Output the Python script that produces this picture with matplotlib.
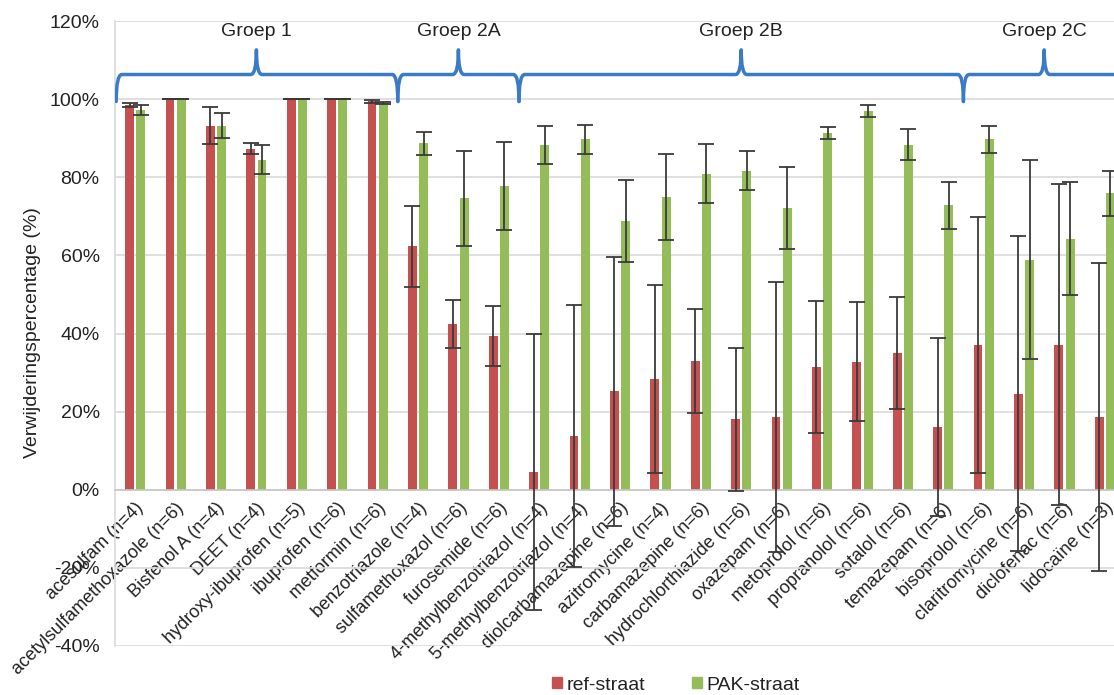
import matplotlib
matplotlib.use("Agg")
import matplotlib.pyplot as plt
from matplotlib.path import Path
from matplotlib.patches import PathPatch, Patch
import numpy as np

plt.rcParams['font.family'] = ['Liberation Sans', 'DejaVu Sans']

compounds = [
    "acesulfam (n=4)", "acetylsulfamethoxazole (n=6)", "Bisfenol A (n=4)",
    "DEET (n=4)", "hydroxy-ibuprofen (n=5)", "ibuprofen (n=6)", "metformin (n=6)",
    "benzotriazole (n=4)", "sulfamethoxazol (n=6)", "furosemide (n=6)",
    "4-methylbenzotriazol (n=4)", "5-methylbenzotriazol (n=4)",
    "diolcarbamazepine (n=6)", "azitromycine (n=4)", "carbamazepine (n=6)",
    "hydrochlorthiazide (n=6)", "oxazepam (n=6)", "metoprolol (n=6)",
    "propranolol (n=6)", "sotalol (n=6)", "temazepam (n=6)", "bisoprolol (n=6)",
    "claritromycine (n=6)", "diclofenac (n=6)", "lidocaïne (n=3)",
]

ref_straat = [98.5, 100, 93.2, 87.3, 100, 100, 99.4, 62.3, 42.4, 39.4,
              4.5, 13.7, 25.2, 28.3, 33.0, 18.0, 18.6, 31.4, 32.8, 35.1,
              16.1, 37.1, 24.6, 37.1, 18.7]
ref_straat_err = [0.5, 0, 4.8, 1.4, 0, 0, 0.3, 10.4, 6.1, 7.6,
                  35.4, 33.5, 34.5, 24.0, 13.3, 18.2, 34.5, 16.8, 15.2, 14.3,
                  22.8, 32.8, 40.3, 41.1, 39.4]
pak_straat = [97.2, 100, 93.2, 84.5, 100, 100, 99.0, 88.7, 74.6, 77.7,
              88.3, 89.7, 68.9, 74.9, 80.9, 81.7, 72.2, 91.3, 96.9, 88.3,
              72.8, 89.7, 58.9, 64.3, 75.9]
pak_straat_err = [1.2, 0, 3.2, 3.7, 0, 0, 0.3, 2.9, 12.2, 11.2,
                  4.8, 3.8, 10.5, 11.0, 7.5, 5.0, 10.5, 1.5, 1.5, 4.0,
                  6.0, 3.5, 25.4, 14.5, 5.8]

# groups: (label, first index, last index)
groups = [("Groep 1", 0, 6), ("Groep 2A", 7, 9), ("Groep 2B", 10, 20),
          ("Groep 2C", 21, 24)]

RED = "#C4504F"
GREEN = "#94BD5A"
BLUE = "#3A7BC8"
GRID = "#D9D9D9"
TXT = "#222222"
FS = 14

fig = plt.figure(figsize=(11.14, 6.95), dpi=100)
ax = fig.add_axes([115 / 1114, 1 - 646 / 695, 1010 / 1114, 625 / 695])

x = np.arange(len(compounds))
w = 0.22
off = 0.14
ax.bar(x - off, ref_straat, width=w, color=RED, zorder=2)
ax.bar(x + off, pak_straat, width=w, color=GREEN, zorder=2)
ekw = dict(fmt="none", ecolor="#3a3a3a", elinewidth=1.3, capsize=5.5,
           capthick=1.3, zorder=4)
ax.errorbar(x - off, ref_straat, yerr=ref_straat_err, **ekw)
ax.errorbar(x + off, pak_straat, yerr=pak_straat_err, **ekw)

ax.set_xlim(-0.5, len(compounds) - 0.5)
ax.set_ylim(-40, 120)
yt = np.arange(-40, 121, 20)
ax.set_yticks(yt)
ax.set_yticklabels([f"{v}%" for v in yt], fontsize=FS, color=TXT)
ax.yaxis.grid(True, color=GRID, linewidth=1.2)
ax.set_axisbelow(True)
ax.tick_params(axis="y", length=0, pad=11)

for s in ["top", "right"]:
    ax.spines[s].set_visible(False)
ax.spines["left"].set_color(GRID)
ax.spines["left"].set_linewidth(1.2)
ax.spines["bottom"].set_position(("data", 0))
ax.spines["bottom"].set_color("#C8C8C8")
ax.spines["bottom"].set_linewidth(1.2)

ax.set_xticks(x)
ax.set_xticklabels(compounds, rotation=45, ha="right", rotation_mode="anchor",
                   fontsize=FS - 1, color=TXT)
ax.tick_params(axis="x", length=0, pad=7)

# curly braces above the groups
y_end, y_h, y_tip = 99.4, 106.3, 112.6
bw = 0.14
for i, (name, a, b) in enumerate(groups):
    x0 = a - 0.5 if i > 0 else -0.47
    x1 = b + 0.5
    xt = (a + b) / 2
    verts = [(x0, y_end), (x0, y_h), (x0 + bw, y_h),
             (xt - bw, y_h), (xt, y_h), (xt, y_tip),
             (xt, y_h), (xt + bw, y_h),
             (x1 - bw, y_h), (x1, y_h), (x1, y_end)]
    codes = [Path.MOVETO, Path.CURVE3, Path.CURVE3,
             Path.LINETO, Path.CURVE3, Path.CURVE3,
             Path.CURVE3, Path.CURVE3,
             Path.LINETO, Path.CURVE3, Path.CURVE3]
    ax.add_patch(PathPatch(Path(verts, codes), fill=False, edgecolor=BLUE,
                           linewidth=2.5, capstyle="round", joinstyle="round",
                           zorder=3))
    ax.text(xt, 117.3, name, ha="center", va="center", fontsize=FS, color=TXT)

fig.text(33 / 1114, 1 - 333 / 695, "Verwijderingspercentage (%)", rotation=90,
         ha="center", va="center", fontsize=FS, color=TXT)

handles = [Patch(color=RED, label="ref-straat"),
           Patch(color=GREEN, label="PAK-straat")]
fig.legend(handles=handles, loc="center", bbox_to_anchor=(676 / 1114, 10 / 695),
           ncol=2, frameon=False, fontsize=FS, handlelength=0.5,
           handleheight=0.5, handletextpad=0.25, columnspacing=2.4,
           labelcolor=TXT)

fig.savefig("out.png", dpi=100)
